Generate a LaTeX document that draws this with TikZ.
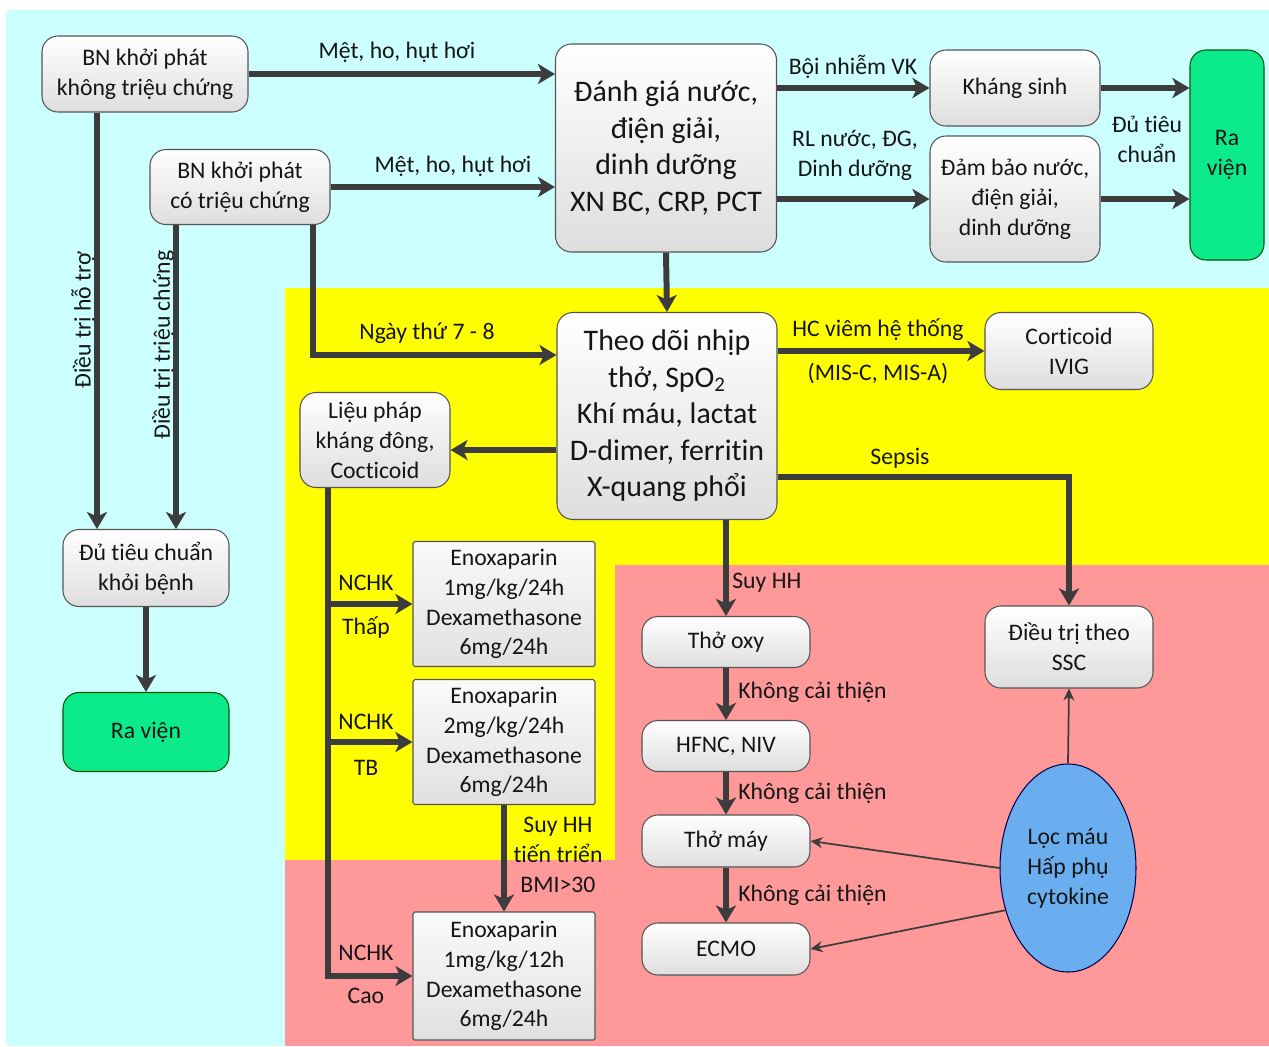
\documentclass[tikz,border=0pt]{standalone}
\usepackage{fontspec}
\setmainfont{Carlito}[Ligatures=NoCommon]
\usetikzlibrary{shapes.geometric,arrows.meta,calc}
\definecolor{bgcyan}{HTML}{CCFFFF}
\definecolor{bgyellow}{HTML}{FFFF00}
\definecolor{bgpink}{HTML}{FF9999}
\definecolor{arrgray}{HTML}{3C3C3C}
\definecolor{boxline}{HTML}{555555}
\definecolor{rvgreen}{HTML}{0CEB8C}
\definecolor{ellblue}{HTML}{6AAEF0}
\definecolor{txt}{HTML}{151515}
\newcommand\fsmall{\fontsize{13.5}{17}\selectfont}
\newcommand\fbig{\fontsize{17}{20.8}\selectfont}
\begin{document}
\begin{tikzpicture}[x=0.02cm,y=-0.02cm,
  sz/.style 2 args={minimum width=#1*0.02cm, minimum height=#2*0.02cm},
  rbox/.style={draw=boxline, line width=0.6pt, rounded corners=0.32cm, top color=white, bottom color=black!13, align=center, inner sep=0pt, text=txt, font=\fsmall},
  ebox/.style={draw=boxline, line width=0.6pt, rounded corners=1pt, top color=black!2, bottom color=black!12, align=center, inner sep=0pt, text=txt, font=\fsmall},
  gbox/.style={draw=green!35!black, line width=0.6pt, rounded corners=0.32cm, fill=rvgreen, align=center, inner sep=0pt, text=txt, font=\fsmall},
  ebl/.style={ellipse, draw=blue!30!black, line width=0.6pt, fill=ellblue, align=center, inner sep=0pt, text=txt, font=\fsmall},
  lbl/.style={align=center, inner sep=0pt, text=txt, font=\fsmall},
  arr/.style={draw=arrgray, line width=3.4pt, -{Stealth[length=0.34cm,width=0.4cm,inset=0.09cm]}},
  tarr/.style={draw=arrgray, line width=1pt, -{Stealth[length=0.24cm,width=0.22cm]}}
]
\useasboundingbox (0,0) rectangle (1269,1046);
\fill[white] (0,0) rectangle (1269,1046);
\fill[bgcyan] (6,10) rectangle (1269,1046);
\fill[bgyellow] (285,288) rectangle (1269,565);
\fill[bgyellow] (285,564) rectangle (615,860);
\fill[bgpink] (615,565) rectangle (1269,1046);
\fill[bgpink] (285,860) rectangle (615,1046);

% nodes
\node[rbox, sz={206}{76}] (bn1) at (145,74) {BN khởi phát\\không triệu chứng};
\node[rbox, sz={180}{75}] (bn2) at (240,187) {BN khởi phát\\có triệu chứng};
\node[rbox, font=\fbig, sz={221}{208}] (dg) at (666,148) {Đánh giá nước,\\điện giải,\\dinh dưỡng\\XN BC, CRP, PCT};
\node[rbox, sz={170}{76}] (ks) at (1015,88) {Kháng sinh};
\node[rbox, sz={170}{126}] (db) at (1015,199) {Đảm bảo nước,\\điện giải,\\dinh dưỡng};
\node[gbox, sz={74}{210}] (rv2) at (1227,155) {Ra\\viện};
\node[rbox, font=\fbig, sz={220}{207}] (td) at (667,416) {Theo dõi nhịp\\thở, SpO\textsubscript{2}\\Khí máu, lactat\\D-dimer, ferritin\\X-quang phổi};
\node[rbox, sz={168}{77}] (cort) at (1069,351) {Corticoid\\IVIG};
\node[rbox, sz={150}{95}] (lp) at (375,440) {Liệu pháp\\kháng đông,\\Cocticoid};
\node[rbox, sz={166}{77}] (dtc) at (146,568) {Đủ tiêu chuẩn\\khỏi bệnh};
\node[gbox, sz={166}{79}] (rv1) at (146,732) {Ra viện};
\node[ebox, sz={182}{125}] (e1) at (504,604) {Enoxaparin\\1mg/kg/24h\\Dexamethasone\\6mg/24h};
\node[ebox, sz={182}{125}] (e2) at (504,742) {Enoxaparin\\2mg/kg/24h\\Dexamethasone\\6mg/24h};
\node[ebox, sz={182}{128}] (e3) at (504,976) {Enoxaparin\\1mg/kg/12h\\Dexamethasone\\6mg/24h};
\node[rbox, sz={168}{51}] (oxy) at (726,642) {Thở oxy};
\node[rbox, sz={168}{51}] (hf) at (726,746) {HFNC, NIV};
\node[rbox, sz={168}{52}] (tm) at (726,841) {Thở máy};
\node[rbox, sz={168}{52}] (ec) at (726,949) {ECMO};
\node[rbox, sz={168}{82}] (ssc) at (1069,647) {Điều trị theo\\SSC};
\node[ebl, sz={136}{208}] (ell) at (1068,868) {Lọc máu\\Hấp phụ\\cytokine};

% labels
\node[lbl] (l1) at (397,52) {Mệt, ho, hụt hơi};
\node[lbl] (l2) at (453,166) {Mệt, ho, hụt hơi};
\node[lbl] (l3) at (853,67) {Bội nhiễm VK};
\node[lbl] (l4) at (855,155) {RL nước, ĐG,\\Dinh dưỡng};
\node[lbl] (l5) at (1147,139) {Đủ tiêu\\chuẩn};
\node[lbl, rotate=90] (l6) at (83,320) {Điều trị hỗ trợ};
\node[lbl, rotate=90] (l7) at (163,345) {Điều trị triệu chứng};
\node[lbl] (l8) at (427,333) {Ngày thứ 7 - 8};
\node[lbl] (l9) at (878,330) {HC viêm hệ thống};
\node[lbl] (l10) at (878,373) {(MIS-C, MIS-A)};
\node[lbl] (l11) at (900,458) {Sepsis};
\node[lbl, anchor=west] (l12) at (732,583) {Suy HH};
\node[lbl, anchor=west] (l13) at (738,692) {Không cải thiện};
\node[lbl, anchor=west] (l14) at (738,793) {Không cải thiện};
\node[lbl, anchor=west] (l15) at (738,895) {Không cải thiện};
\node[lbl] (l16) at (366,583) {NCHK};
\node[lbl] (l17) at (366,628) {Thấp};
\node[lbl] (l18) at (366,722) {NCHK};
\node[lbl] (l19) at (366,768) {TB};
\node[lbl] (l20) at (366,953) {NCHK};
\node[lbl] (l21) at (366,996) {Cao};
\node[lbl] (l22) at (558,855) {Suy HH\\tiến triển\\BMI>30};

% connectors
\draw[arr] (bn1.east) -- (dg.west |- bn1.east);
\draw[arr] (bn2.east) -- (dg.west |- bn2.east);
\draw[arr] (dg.east |- ks.west) -- (ks.west);
\draw[arr] (dg.east |- db.west) -- (db.west);
\draw[arr] (ks.east) -- (rv2.west |- ks.east);
\draw[arr] (db.east) -- (rv2.west |- db.east);
\draw[arr] (dg.south) -- (td.north);
\draw[arr] (bn2.south -| 313,0) |- (td.west |- 0,355);
\draw[arr] (bn1.south -| 97,0) -- (dtc.north -| 97,0);
\draw[arr] (bn2.south -| 176,0) -- (dtc.north -| 176,0);
\draw[arr] (dtc.south) -- (rv1.north);
\draw[arr] (td.east |- cort.west) -- (cort.west);
\draw[arr] (td.west |- 0,450) -- (lp.east |- 0,450);
\draw[arr] (td.east |- 0,477) -| (ssc.north);
\draw[arr] (td.south -| oxy.north) -- (oxy.north);
\draw[arr] (oxy.south) -- (hf.north);
\draw[arr] (hf.south) -- (tm.north);
\draw[arr] (tm.south) -- (ec.north);
\draw[arr] (lp.south -| 328,0) |- (e3.west);
\draw[arr] (e1.west -| 328,0) -- (e1.west);
\draw[arr] (e2.west -| 328,0) -- (e2.west);
\draw[arr] (e2.south) -- (e3.north);
\draw[tarr] (ell.north) -- (ssc.south);
\draw[tarr] (ell.west) -- (tm.east);
\draw[tarr] (ell.214) -- (ec.east);
\end{tikzpicture}
\end{document}
